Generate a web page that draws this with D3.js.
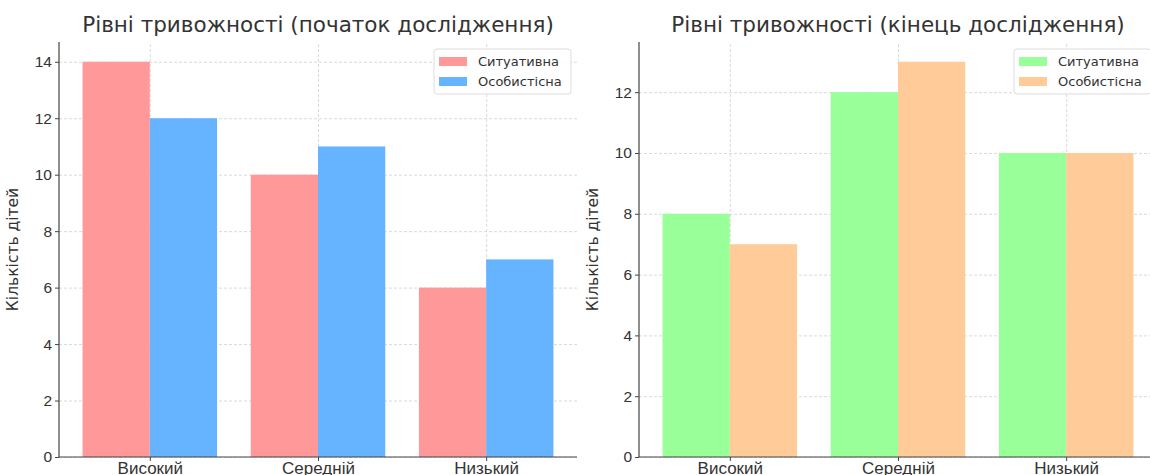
<!DOCTYPE html>
<html>
<head>
<meta charset="utf-8">
<script src="https://cdn.jsdelivr.net/npm/d3@7"></script>
<style>
  body { margin: 0; background: #fff; }
  svg { display: block; font-family: "DejaVu Sans", sans-serif; }
  .grid line { stroke: #d0d0d0; stroke-dasharray: 3,2; stroke-width: 0.8; }
  .grid path { display: none; }
  .axis path, .axis line { stroke: #444; }
  .axis text { fill: #333; }
  .x-axis text { font-size: 17px; }
  .y-axis text { font-size: 15.5px; }
</style>
</head>
<body>
<div id="chart"></div>
<script>
// Categories and series
const levels = ["Високий", "Середній", "Низький"];
const seriesNames = ["Ситуативна", "Особистісна"];

const startSituational = [14, 10, 6];
const startPersonal = [12, 11, 7];
const endSituational = [8, 12, 10];
const endPersonal = [7, 13, 10];

const startTicks = [0, 2, 4, 6, 8, 10, 12, 14];
const endTicks = [0, 2, 4, 6, 8, 10, 12];

const panels = [
  {
    title: "Рівні тривожності (початок дослідження)",
    values: [startSituational, startPersonal],
    colors: ["#ff9999", "#66b3ff"],
    ticks: startTicks,
    left: 59, right: 577
  },
  {
    title: "Рівні тривожності (кінець дослідження)",
    values: [endSituational, endPersonal],
    colors: ["#99ff99", "#ffcc99"],
    ticks: endTicks,
    left: 639, right: 1157
  }
];

const width = 1150, height = 475;
const plotTop = 42, plotBottom = 457;
const barWidth = 0.4;

const svg = d3.select("#chart").append("svg")
  .attr("width", width)
  .attr("height", height);

panels.forEach((p) => {
  const g = svg.append("g");

  // matplotlib-like autoscaling with 5% margins
  const xMin = -barWidth, xMax = levels.length - 1 + barWidth;
  const xPad = (xMax - xMin) * 0.05;
  const x = d3.scaleLinear().domain([xMin - xPad, xMax + xPad]).range([p.left, p.right]);
  const yMax = d3.max(p.values.flat()) * 1.05;
  const y = d3.scaleLinear().domain([0, yMax]).range([plotBottom, plotTop]);

  // grid
  g.append("g").attr("class", "grid")
    .attr("transform", `translate(0,${plotBottom})`)
    .call(d3.axisBottom(x).tickValues(d3.range(levels.length)).tickSize(-(plotBottom - plotTop)).tickFormat(""));
  g.append("g").attr("class", "grid")
    .attr("transform", `translate(${p.left},0)`)
    .call(d3.axisLeft(y).tickValues(p.ticks).tickSize(-(p.right - p.left)).tickFormat(""));

  // bars
  p.values.forEach((vals, si) => {
    g.append("g").selectAll("rect")
      .data(vals)
      .join("rect")
      .attr("x", (d, i) => x(i - barWidth + si * barWidth))
      .attr("width", (d, i) => x(i + barWidth) - x(i))
      .attr("y", (d) => y(d))
      .attr("height", (d) => y(0) - y(d))
      .attr("fill", p.colors[si]);
  });

  // axes (left and bottom spines only)
  const xAxis = g.append("g").attr("class", "axis x-axis")
    .attr("transform", `translate(0,${plotBottom})`)
    .call(d3.axisBottom(x).tickValues(d3.range(levels.length)).tickSize(4).tickPadding(1)
      .tickFormat((d) => levels[d]));
  xAxis.select(".domain").attr("d", `M${p.left},0H${p.right}`).attr("stroke-width", 1.2);

  const yAxis = g.append("g").attr("class", "axis y-axis")
    .attr("transform", `translate(${p.left},0)`)
    .call(d3.axisLeft(y).tickValues(p.ticks).tickSize(4).tickPadding(3));
  yAxis.select(".domain").attr("d", `M0,${plotBottom}V${plotTop}`).attr("stroke-width", 1.2);

  // y label
  svg.append("text")
    .attr("transform", `translate(${p.left - 41},${(plotTop + plotBottom) / 2}) rotate(-90)`)
    .attr("text-anchor", "middle")
    .attr("font-size", 15.5)
    .attr("fill", "#333")
    .text("Кількість дітей");

  // title
  svg.append("text")
    .attr("x", (p.left + p.right) / 2)
    .attr("y", 32)
    .attr("text-anchor", "middle")
    .attr("font-size", 21.5)
    .attr("fill", "#333")
    .text(p.title);

  // legend
  const lx = p.right - 143, ly = 49;
  const legend = svg.append("g").attr("transform", `translate(${lx},${ly})`);
  legend.append("rect")
    .attr("width", 137).attr("height", 45).attr("rx", 3)
    .attr("fill", "#fff").attr("fill-opacity", 0.85)
    .attr("stroke", "#ddd");
  seriesNames.forEach((name, i) => {
    legend.append("rect")
      .attr("x", 5).attr("y", 8 + i * 20)
      .attr("width", 28).attr("height", 9)
      .attr("fill", p.colors[i]);
    legend.append("text")
      .attr("x", 44).attr("y", 17 + i * 20)
      .attr("font-size", 13)
      .attr("fill", "#333")
      .text(name);
  });
});
</script>
</body>
</html>
